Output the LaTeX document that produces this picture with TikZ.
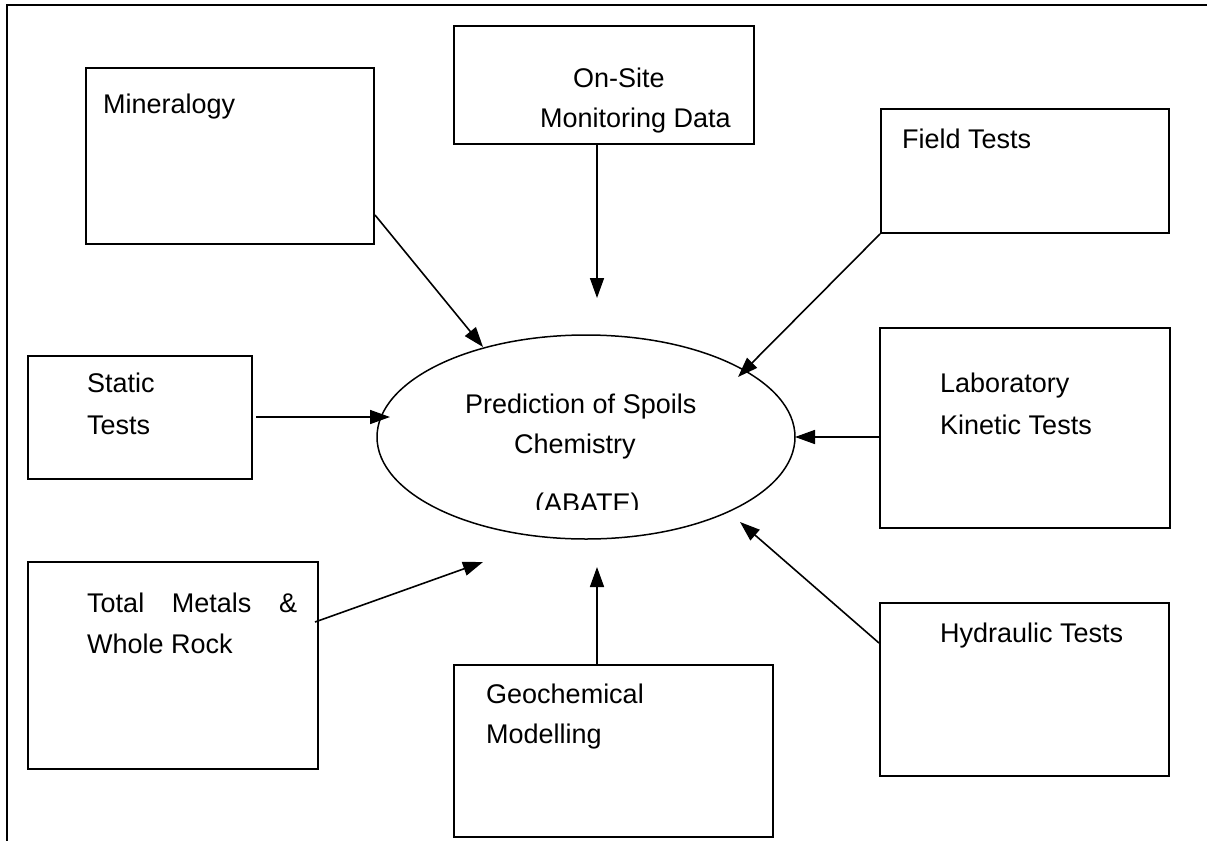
\documentclass[tikz,border=0pt]{standalone}
\usepackage{fontspec}
\setmainfont{Liberation Sans}
\usetikzlibrary{arrows.meta,shapes.geometric,calc}
\begin{document}
\begin{tikzpicture}[x=1pt,y=-1pt,
  box/.style={draw,line width=2pt,rectangle,inner sep=0pt,anchor=north west},
  lbl/.style={anchor=base west,inner sep=0pt,font=\fontsize{27}{32}\selectfont},
  conn/.style={line width=1.6pt,-{Triangle[length=20pt,width=14pt]}}]
\useasboundingbox (0,0) rectangle (1207,841);
% frame
\draw[line width=2.5pt] (1207,5) -- (7,5) -- (7,841);
% boxes
\node[box,minimum width=300pt,minimum height=118pt] (onsite) at (453,25) {};
\node[box,minimum width=288pt,minimum height=176pt] (mineral) at (85,67) {};
\node[box,minimum width=288pt,minimum height=124pt] (field) at (880,108) {};
\node[box,minimum width=224pt,minimum height=123pt] (static) at (27,355) {};
\node[box,minimum width=290pt,minimum height=200pt] (lab) at (879,327) {};
\node[box,minimum width=290pt,minimum height=207pt] (total) at (27,561) {};
\node[box,minimum width=319pt,minimum height=172pt] (geo) at (453,664) {};
\node[box,minimum width=289pt,minimum height=173pt] (hyd) at (879,602) {};
% ellipse
\node[draw,ellipse,line width=1.5pt,minimum width=418pt,minimum height=204pt,inner sep=0pt] (pred) at (586,437) {};
% labels
\node[lbl] (t1) at (573,87) {On-Site};
\node[lbl] (t2) at (540,127) {Monitoring Data};
\node[lbl] (t3) at (103,113) {Mineralogy};
\node[lbl] (t4) at (902,148) {Field Tests};
\node[lbl] (t5) at (87,392) {Static};
\node[lbl] (t6) at (87,434) {Tests};
\node[lbl] (t7) at (940,392) {Laboratory};
\node[lbl] (t8) at (940,434) {Kinetic Tests};
\node[lbl] (t9) at (465,413) {Prediction of Spoils};
\node[lbl] (t10) at (514,453) {Chemistry};
\begin{scope}
\clip (400,300) rectangle (780,509);
\node[lbl] (t11) at (535,512) {(ABATE)};
\end{scope}
\node[lbl] (t12) at (87,612) {\makebox[210pt][s]{Total Metals \&}};
\node[lbl] (t13) at (87,653) {Whole Rock};
\node[lbl] (t14) at (940,642) {Hydraulic Tests};
\node[lbl] (t15) at (486,703) {Geochemical};
\node[lbl] (t16) at (486,743) {Modelling};
% arrow end points
\coordinate (e1) at (483,347);
\coordinate (e2) at (597,298);
\coordinate (e3) at (738,377);
\coordinate (e4) at (390,417);
\coordinate (e5) at (795,437);
\coordinate (e6) at (740,522);
\coordinate (e7) at (597,567);
\coordinate (e8) at (483,562);
% connectors
\draw[conn] (mineral.east |- 0,215) -- (e1);
\draw[conn] (onsite.south -| e2) -- (e2);
\draw[conn] (field.south west) -- (e3);
\draw[conn] ([xshift=3pt]static.east |- e4) -- (e4);
\draw[conn] (lab.west |- e5) -- (e5);
\draw[conn] (hyd.west |- 0,643) -- (e6);
\draw[conn] (geo.north -| e7) -- (e7);
\draw[conn] ([xshift=-4pt]total.east |- 0,622) -- (e8);
\end{tikzpicture}
\end{document}
